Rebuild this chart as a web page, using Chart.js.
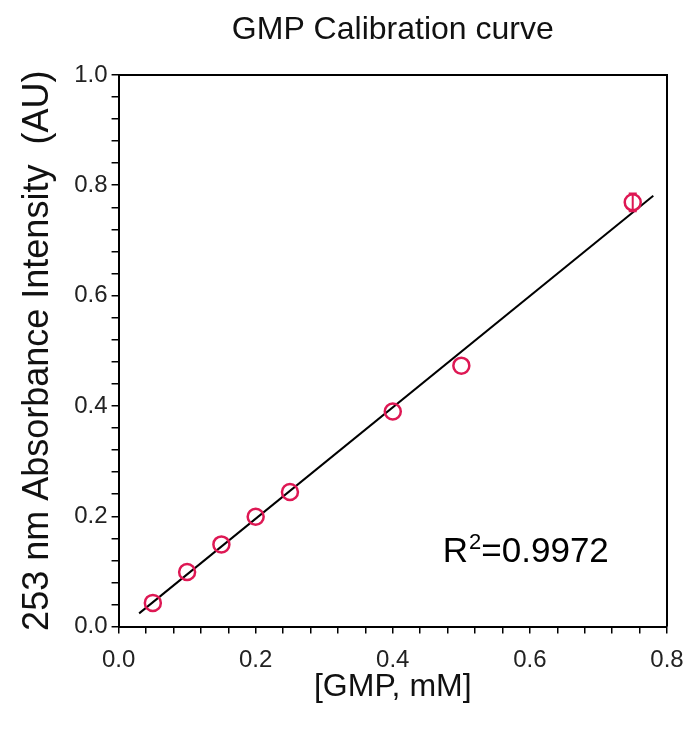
<!DOCTYPE html>
<html>
<head>
<meta charset="utf-8">
<script src="https://cdn.jsdelivr.net/npm/chart.js@4/dist/chart.umd.min.js"></script>
<style>
  html, body { margin: 0; padding: 0; background: #fff; }
  #wrap { width: 689px; height: 729px; }
</style>
</head>
<body>
<div id="wrap"><canvas id="calibChart"></canvas></div>
<script>
// measured standards
const gmpConc = [0.05, 0.10, 0.15, 0.20, 0.25, 0.40, 0.50, 0.75];
const absorbance = [0.043, 0.099, 0.149, 0.199, 0.244, 0.390, 0.473, 0.769];
const absError = [0, 0, 0, 0, 0, 0, 0, 0.016];

// fitted line end points
const fitX = [0.03, 0.78];
const fitY = [0.024, 0.781];

const r2Text = '0.9972';

const pink = 'rgb(222, 24, 84)';
const font = '"Liberation Sans", Arial, sans-serif';

// error bars, drawn through the scales
const errorBars = {
    id: 'errorBars',
    afterDatasetsDraw(chart) {
        const { ctx, scales: { x, y } } = chart;
        ctx.save();
        ctx.strokeStyle = pink;
        ctx.lineWidth = 2;
        gmpConc.forEach((c, i) => {
            if (!absError[i]) return;
            const px = x.getPixelForValue(c);
            const top = y.getPixelForValue(absorbance[i] + absError[i]);
            const bot = y.getPixelForValue(absorbance[i] - absError[i]);
            ctx.beginPath();
            ctx.moveTo(px, top); ctx.lineTo(px, bot);
            ctx.moveTo(px - 4, top); ctx.lineTo(px + 4, top);
            ctx.moveTo(px - 4, bot); ctx.lineTo(px + 4, bot);
            ctx.stroke();
        });
        ctx.restore();
    }
};

// frame on top/right and the R² note
const frameAndNote = {
    id: 'frameAndNote',
    afterDraw(chart) {
        const { ctx, chartArea: a, scales: { x, y } } = chart;
        ctx.save();
        ctx.strokeStyle = '#000';
        ctx.lineWidth = 2;
        ctx.beginPath();
        ctx.moveTo(a.left, a.top); ctx.lineTo(a.right, a.top); ctx.lineTo(a.right, a.bottom);
        ctx.stroke();

        const tx = x.getPixelForValue(0.473);
        const ty = y.getPixelForValue(0.118);
        ctx.fillStyle = '#000';
        ctx.textBaseline = 'alphabetic';
        ctx.font = '35px ' + font;
        ctx.fillText('R', tx, ty);
        let w = ctx.measureText('R').width;
        ctx.font = '22px ' + font;
        ctx.fillText('2', tx + w + 1, ty - 13);
        w += ctx.measureText('2').width + 1;
        ctx.font = '35px ' + font;
        ctx.fillText('=' + r2Text, tx + w, ty);
        ctx.restore();
    }
};

const ctx = document.getElementById('calibChart').getContext('2d');
const calibChart = new Chart(ctx, {
    type: 'scatter',
    data: {
        datasets: [
            {
                label: 'GMP',
                data: gmpConc.map((c, i) => ({ x: c, y: absorbance[i] })),
                pointStyle: 'circle',
                pointRadius: 8,
                pointBorderWidth: 2.5,
                pointBorderColor: pink,
                pointBackgroundColor: 'rgba(255,255,255,0)',
                order: 1
            },
            {
                label: 'Fit',
                type: 'line',
                data: fitX.map((v, i) => ({ x: v, y: fitY[i] })),
                borderColor: '#000',
                borderWidth: 2,
                pointRadius: 0,
                fill: false,
                order: 2
            }
        ]
    },
    options: {
        responsive: true,
        maintainAspectRatio: false,
        animation: false,
        layout: { padding: { top: 6, right: 22, left: 12, bottom: 6 } },
        scales: {
            x: {
                type: 'linear',
                min: 0,
                max: 0.8,
                grid: { drawOnChartArea: false, drawTicks: true, tickLength: 7, color: '#000', lineWidth: 1.5 },
                border: { display: true, color: '#000', width: 2 },
                ticks: {
                    stepSize: 0.04,
                    autoSkip: false,
                    maxRotation: 0,
                    color: '#222',
                    padding: 5,
                    font: { family: font, size: 24, lineHeight: 1.833 },
                    callback: (v) => (Math.round(v * 100) % 20 === 0 ? v.toFixed(1) : '')
                },
                title: {
                    display: true,
                    text: '[GMP, mM]',
                    color: '#111',
                    padding: { top: -20, bottom: 17 },
                    font: { family: font, size: 32 }
                }
            },
            y: {
                type: 'linear',
                min: 0,
                max: 1.0,
                grid: { drawOnChartArea: false, drawTicks: true, tickLength: 7, color: '#000', lineWidth: 1.5 },
                border: { display: true, color: '#000', width: 2 },
                ticks: {
                    stepSize: 0.04,
                    autoSkip: false,
                    color: '#222',
                    padding: 4,
                    font: { family: font, size: 24 },
                    callback: (v) => (Math.round(v * 100) % 20 === 0 ? v.toFixed(1) : '')
                },
                title: {
                    display: true,
                    text: '253 nm Absorbance Intensity  (AU)',
                    color: '#111',
                    padding: { top: 4, bottom: 11 },
                    font: { family: font, size: 36 }
                }
            }
        },
        plugins: {
            legend: { display: false },
            tooltip: { enabled: false },
            title: {
                display: true,
                fullSize: false,
                text: 'GMP Calibration curve',
                color: '#111',
                padding: { top: 5, bottom: 25.5 },
                font: { family: font, size: 32, weight: 'normal' }
            }
        }
    },
    plugins: [errorBars, frameAndNote]
});
</script>
</body>
</html>
